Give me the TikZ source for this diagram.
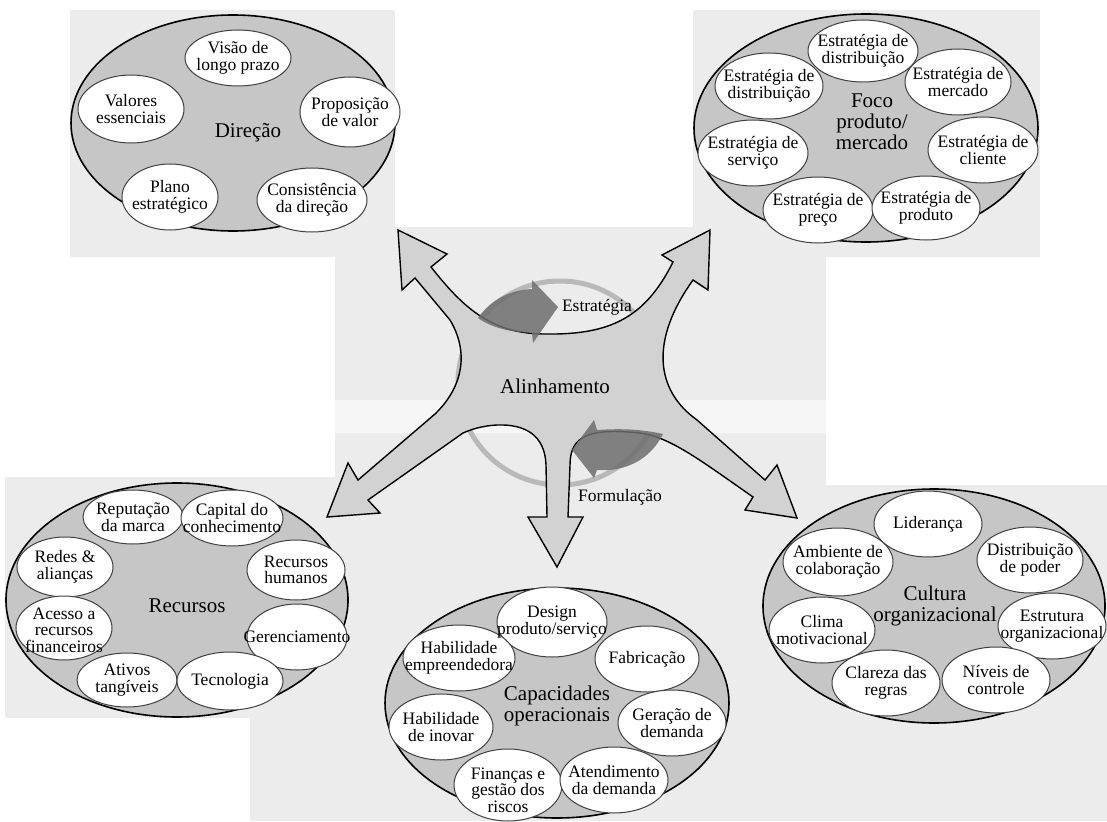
\documentclass[tikz,border=0pt]{standalone}
\usepackage{fontspec}
\setmainfont{Liberation Serif}
\definecolor{panel}{RGB}{236,236,236}
\definecolor{ringfill}{RGB}{198,198,198}
\definecolor{starfill}{RGB}{210,210,210}
\definecolor{swirl}{RGB}{110,110,110}
\tikzset{
  bigell/.style={draw=black, line width=1.6pt, fill=ringfill},
  subell/.style={draw=black!75, line width=1pt, fill=white},
  subtxt/.style={align=center, inner sep=0pt, font=\fontsize{17.5}{16.5}\selectfont},
  bigtxt/.style={align=center, inner sep=0pt, font=\fontsize{21}{21}\selectfont},
}
\begin{document}
\begin{tikzpicture}[x=1pt, y=-1pt]
            \useasboundingbox (0,0) rectangle (1107,821);
            \fill[panel] (70,10) rectangle (395,257);
            \fill[panel] (693,10) rectangle (1040,257);
            \fill[panel] (335,227) rectangle (826,400);
            \fill[panel!50] (335,400) rectangle (826,433);
            \fill[panel] (335,433) rectangle (826,821);
            \fill[panel] (826,485) rectangle (1107,821);
            \fill[panel] (5,477) rectangle (335,718);
            \fill[panel] (250,718) rectangle (335,821);

            \draw[bigell] (233,123) ellipse [x radius=162, y radius=108];
            \draw[subell] (238,58) ellipse [x radius=53, y radius=28];
            \draw[subell] (131,109) ellipse [x radius=53, y radius=34];
            \draw[subell] (350,112) ellipse [x radius=50, y radius=35];
            \draw[subell] (170,197) ellipse [x radius=48, y radius=33];
            \draw[subell] (312,200) ellipse [x radius=55, y radius=32];
            \node[subtxt] (visao) at (238,58) {Visão de\\longo prazo};
            \node[subtxt] (valores) at (131,109) {Valores\\essenciais};
            \node[subtxt] (proposicao) at (350,112) {Proposição\\de valor};
            \node[subtxt] (plano) at (170,197) {Plano\\estratégico};
            \node[subtxt] (consistencia) at (312,200) {Consistência\\da direção};
            \node[bigtxt] (direcao) at (248,133) {Direção};

            \draw[bigell] (866,128) ellipse [x radius=172, y radius=114];
            \draw[subell] (863,51) ellipse [x radius=55, y radius=31];
            \draw[subell] (769,86) ellipse [x radius=54, y radius=33];
            \draw[subell] (958,82) ellipse [x radius=53, y radius=33];
            \draw[subell] (753,153) ellipse [x radius=55, y radius=33];
            \draw[subell] (983,150) ellipse [x radius=55, y radius=33];
            \draw[subell] (818,210) ellipse [x radius=55, y radius=33];
            \draw[subell] (926,208) ellipse [x radius=54, y radius=32];
            \node[subtxt] (distA) at (863,51) {Estratégia de\\distribuição};
            \node[subtxt] (distB) at (769,86) {Estratégia de\\distribuição};
            \node[subtxt] (mercado) at (958,82) {Estratégia de\\mercado};
            \node[subtxt] (servico) at (753,153) {Estratégia de\\serviço};
            \node[subtxt] (cliente) at (983,150) {Estratégia de\\cliente};
            \node[subtxt] (preco) at (818,210) {Estratégia de\\preço};
            \node[subtxt] (produto) at (926,208) {Estratégia de\\produto};
            \node[bigtxt] (foco) at (872,122) {Foco\\produto/\\mercado};

            \draw[bigell] (177,600) ellipse [x radius=171, y radius=117];
            \draw[subell] (133,517) ellipse [x radius=50, y radius=27];
            \draw[subell] (232,518) ellipse [x radius=51, y radius=28];
            \draw[subell] (65,567) ellipse [x radius=48, y radius=30];
            \draw[subell] (296,570) ellipse [x radius=49, y radius=30];
            \draw[subell] (64,628) ellipse [x radius=48, y radius=32];
            \draw[subell] (297,637) ellipse [x radius=50, y radius=33];
            \draw[subell] (127,680) ellipse [x radius=50, y radius=27];
            \draw[subell] (230,681) ellipse [x radius=53, y radius=29];
            \node[subtxt] (reputacao) at (133,517) {Reputação\\da marca};
            \node[subtxt] (capital) at (232,518) {Capital do\\conhecimento};
            \node[subtxt] (redes) at (65,567) {Redes \&\\alianças};
            \node[subtxt] (humanos) at (296,570) {Recursos\\humanos};
            \node[subtxt] (acesso) at (64,630) {Acesso a\\recursos\\financeiros};
            \node[subtxt] (gerenc) at (297,637) {Gerenciamento};
            \node[subtxt] (ativos) at (127,680) {Ativos\\tangíveis};
            \node[subtxt] (tecno) at (230,681) {Tecnologia};
            \node[bigtxt] (recursos) at (187,606) {Recursos};

            \draw[bigell] (557,703) ellipse [x radius=172, y radius=115];
            \draw[subell] (552,622) ellipse [x radius=55, y radius=35];
            \draw[subell] (459,658) ellipse [x radius=56, y radius=33];
            \draw[subell] (647,659) ellipse [x radius=52, y radius=33];
            \draw[subell] (441,727) ellipse [x radius=52, y radius=33];
            \draw[subell] (672,723) ellipse [x radius=54, y radius=33];
            \draw[subell] (508,785) ellipse [x radius=54, y radius=36];
            \draw[subell] (614,780) ellipse [x radius=54, y radius=33];
            \node[subtxt] (design) at (552,622) {Design\\produto/serviço};
            \node[subtxt] (empreend) at (459,658) {Habilidade\\empreendedora};
            \node[subtxt] (fabric) at (647,659) {Fabricação};
            \node[subtxt] (inovar) at (441,727) {Habilidade\\de inovar};
            \node[subtxt] (geracao) at (672,723) {Geração de\\demanda};
            \node[subtxt] (financas) at (508,790) {Finanças e\\gestão dos\\riscos};
            \node[subtxt] (atend) at (614,780) {Atendimento\\da demanda};
            \node[bigtxt] (capac) at (557,706) {Capacidades\\operacionais};

            \draw[bigell] (934,606) ellipse [x radius=171, y radius=117];
            \draw[subell] (928,524) ellipse [x radius=54, y radius=33];
            \draw[subell] (838,562) ellipse [x radius=55, y radius=34];
            \draw[subell] (1030,560) ellipse [x radius=53, y radius=33];
            \draw[subell] (822,630) ellipse [x radius=53, y radius=33];
            \draw[subell] (1052,626) ellipse [x radius=54, y radius=33];
            \draw[subell] (886,683) ellipse [x radius=54, y radius=33];
            \draw[subell] (996,680) ellipse [x radius=54, y radius=33];
            \node[subtxt] (lider) at (928,524) {Liderança};
            \node[subtxt] (ambiente) at (838,562) {Ambiente de\\colaboração};
            \node[subtxt] (poder) at (1030,560) {Distribuição\\de poder};
            \node[subtxt] (clima) at (822,630) {Clima\\motivacional};
            \node[subtxt] (estrutura) at (1052,626) {Estrutura\\organizacional};
            \node[subtxt] (clareza) at (886,683) {Clareza das\\regras};
            \node[subtxt] (niveis) at (996,680) {Níveis de\\controle};
            \node[bigtxt] (cultura) at (935,606) {Cultura\\organizacional};

            \draw[gray!55, line width=5pt] (560,383) circle [radius=102];
            \draw[line width=1.4pt, fill=starfill] (398,230) -- (447,254) -- (431,267)
                .. controls (462,306) and (490,334) .. (545,334)
                .. controls (610,335) and (645,318) .. (673,262)
                -- (662,255) -- (710,230) -- (708,290) -- (693,280)
                .. controls (650,340) and (655,390) .. (697,420)
                -- (765,480) -- (777,465) -- (797,518) -- (745,510) -- (753,497)
                .. controls (700,460) and (670,437) .. (640,433)
                .. controls (590,428) and (570,435) .. (570,465)
                -- (568,517) -- (583,517) -- (557,567) -- (528,517) -- (547,517)
                -- (546,465) .. controls (545,435) and (525,424) .. (497,425)
                .. controls (480,426) and (470,430) .. (463,433)
                -- (368,500) -- (380,513) -- (327,517) -- (348,463) -- (358,480)
                -- (435,414) .. controls (465,385) and (468,350) .. (450,320)
                -- (415,278) -- (402,290) -- cycle;
            \fill[swirl, opacity=.85] (478,318) .. controls (492,298) and (512,290) .. (532,289)
                -- (532,280) -- (558,307) -- (533,343) -- (532,333)
                .. controls (510,332) and (492,328) .. (478,318) -- cycle;
            \fill[swirl, opacity=.85] (663,434) .. controls (650,460) and (625,472) .. (597,470)
                -- (594,478) -- (572,450) -- (594,420) -- (597,430)
                .. controls (625,428) and (645,430) .. (663,434) -- cycle;
            \node[bigtxt] (alinh) at (555,386) {Alinhamento};
            \node[subtxt] (estrat) at (597,307) {Estratégia};
            \node[subtxt] (formul) at (620,497) {Formulação};
        \end{tikzpicture}
\end{document}
